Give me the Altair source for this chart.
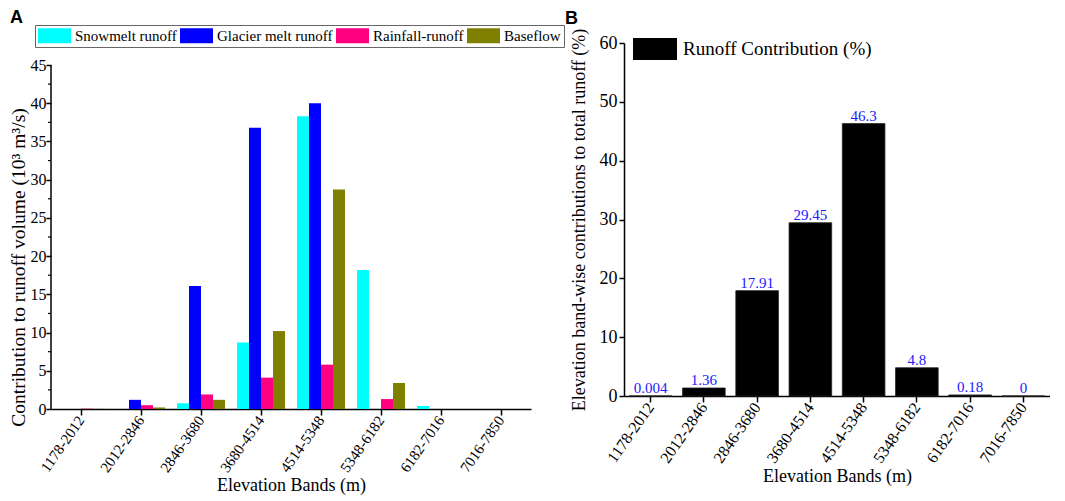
import altair as alt
import pandas as pd

bands = ["1178-2012", "2012-2846", "2846-3680", "3680-4514",
         "4514-5348", "5348-6182", "6182-7016", "7016-7850"]
series_names = ["Snowmelt runoff", "Glacier melt runoff", "Rainfall-runoff", "Baseflow"]
series_colors = ["#00FFFF", "#0000FF", "#FF0080", "#808000"]

snowmelt = [0, 0, 0.75, 8.7, 38.3, 18.2, 0.4, 0]
glacier = [0, 1.2, 16.1, 36.8, 40.0, 0, 0, 0]
rainfall = [0.05, 0.5, 1.9, 4.1, 5.8, 1.3, 0, 0]
baseflow = [0.02, 0.2, 1.2, 10.2, 28.7, 3.4, 0, 0]

contribution = [0.004, 1.36, 17.91, 29.45, 46.3, 4.8, 0.18, 0]
contribution_text = ["0.004", "1.36", "17.91", "29.45", "46.3", "4.8", "0.18", "0"]
contribution_name = "Runoff Contribution (%)"

y_ticks_a = [0, 5, 10, 15, 20, 25, 30, 35, 40, 45]
y_minor_a = [2.5, 7.5, 12.5, 17.5, 22.5, 27.5, 32.5, 37.5, 42.5]
y_ticks_b = [0, 10, 20, 30, 40, 50, 60]

rows = []
for s, vals in zip(series_names, [snowmelt, glacier, rainfall, baseflow]):
    for b, v in zip(bands, vals):
        rows.append({"band": b, "series": s, "value": v})
df_a = pd.DataFrame(rows)
df_axis_a = pd.DataFrame({"value": [y_ticks_a[0]], "hi": [y_ticks_a[-1]]})
df_minor_a = pd.DataFrame({"value": y_minor_a})
df_b = pd.DataFrame({"band": bands, "value": contribution,
                     "label": contribution_text, "series": contribution_name})

serif = "Liberation Serif"
axis_common = dict(domainColor="black", domainWidth=1.5, tickColor="black", tickWidth=1.5,
                   labelColor="black", titleColor="black", labelFont=serif, titleFont=serif,
                   titleFontWeight="normal", grid=False)

# ---------------- Panel A ----------------
y_scale_a = alt.Scale(domain=[0, 47.88], nice=False, zero=True)
y_axis_a = alt.Axis(values=y_ticks_a, title="Contribution to runoff volume (10³ m³/s)",
                    labelFontSize=16, titleFontSize=19.5, tickSize=5, labelPadding=0,
                    titlePadding=2, titleY=224, domain=False, **axis_common)
x_a = alt.X("band:N", sort=bands, scale=alt.Scale(paddingInner=0.2, paddingOuter=0.1),
            axis=alt.Axis(title="Elevation Bands (m)", labelAngle=305, labelFontSize=15,
                          titleFontSize=18, tickSize=6, labelPadding=2, titlePadding=2,
                          **axis_common))
bars_a = alt.Chart(df_a).mark_bar().encode(
    x=x_a,
    xOffset=alt.XOffset("series:N", sort=series_names,
                        scale=alt.Scale(paddingInner=0, paddingOuter=0)),
    y=alt.Y("value:Q", scale=y_scale_a, axis=y_axis_a),
    color=alt.Color("series:N", sort=series_names,
                    scale=alt.Scale(domain=series_names, range=series_colors),
                    legend=alt.Legend(orient="none", legendX=-16, legendY=-18,
                                      direction="horizontal", title=None,
                                      symbolType="M-1,-1H3.4V1H-1Z", symbolSize=225,
                                      symbolStrokeWidth=0, labelOffset=22,
                                      labelFont=serif, labelFontSize=15, labelColor="black",
                                      labelLimit=300, columnPadding=3, padding=3,
                                      strokeColor="#666666", fillColor="white")),
)
yline_a = alt.Chart(df_axis_a).mark_rule(color="black", strokeWidth=1.5).encode(
    x=alt.value(0),
    x2=alt.value(0),
    y=alt.Y("value:Q", scale=y_scale_a, axis=y_axis_a),
    y2="hi:Q",
)
yminor_a = alt.Chart(df_minor_a).mark_tick(orient="horizontal", size=3, thickness=1.2,
                                           color="black", opacity=1).encode(
    x=alt.value(-1.5),
    y=alt.Y("value:Q", scale=y_scale_a, axis=y_axis_a),
)
panel_a = alt.layer(bars_a, yline_a, yminor_a).properties(
    width=480, height=366,
    title=alt.TitleParams("A", anchor="start", font="Liberation Sans", fontSize=18,
                          fontWeight="bold", color="black", dx=2, offset=-2),
)

# ---------------- Panel B ----------------
x_b = alt.X("band:N", sort=bands, scale=alt.Scale(paddingInner=0.2, paddingOuter=0.1),
            axis=alt.Axis(title="Elevation Bands (m)", labelAngle=305, labelFontSize=16,
                          titleFontSize=18, tickSize=6, labelPadding=2, titlePadding=2,
                          **axis_common))
y_b = alt.Y("value:Q", scale=alt.Scale(domain=[0, 60], nice=False),
            axis=alt.Axis(values=y_ticks_b,
                          title="Elevation band-wise contributions to total runoff (%)",
                          labelFontSize=18, titleFontSize=18, tickSize=5, labelPadding=2,
                          titlePadding=11, **axis_common))
bars_b = alt.Chart(df_b).mark_bar(stroke="#222222", strokeWidth=0.8).encode(
    x=x_b, y=y_b,
    color=alt.Color("series:N", scale=alt.Scale(domain=[contribution_name], range=["#000000"]),
                    legend=alt.Legend(orient="none", legendX=9, legendY=-5, title=None,
                                      symbolType="M-1,-1H3V1H-1Z", symbolSize=484,
                                      symbolStrokeWidth=0, labelOffset=28,
                                      labelFont=serif, labelFontSize=19, labelColor="black",
                                      labelLimit=300, padding=0)),
)
text_b = alt.Chart(df_b).mark_text(color="#1a1aff", font=serif, fontSize=15, dy=-3,
                                   baseline="alphabetic").encode(
    x=x_b, y=y_b, text="label:N")
panel_b = alt.layer(bars_b, text_b).properties(
    width=426, height=353,
    title=alt.TitleParams("B", anchor="start", font="Liberation Sans", fontSize=18,
                          fontWeight="bold", color="black", dx=-5, offset=0),
)

chart = alt.hconcat(panel_a, panel_b, spacing=0).resolve_scale(
    color="independent", x="independent", y="independent").properties(
    padding={"left": 0, "top": 0, "right": 0, "bottom": 0}
).configure(font=serif).configure_view(stroke=None, strokeWidth=0)

chart.save("out.html", embed_options={"renderer": "svg", "actions": False})
